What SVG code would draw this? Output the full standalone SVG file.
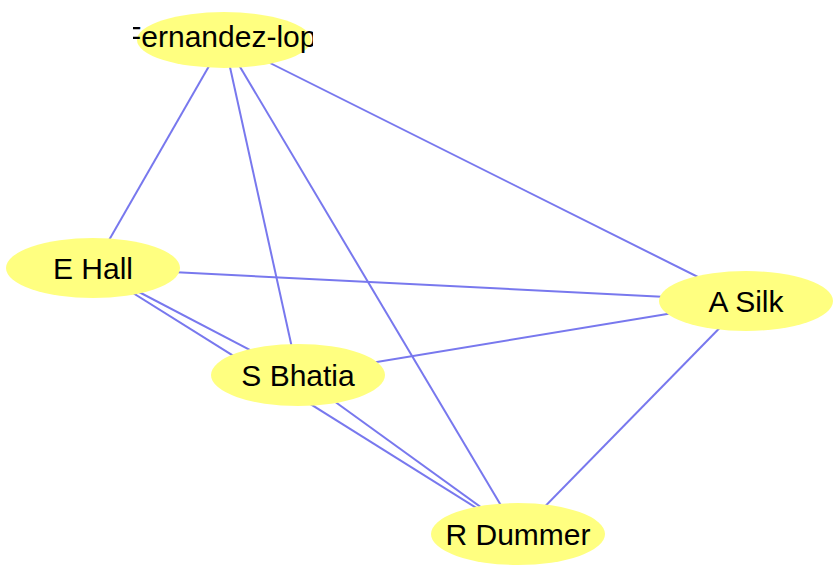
<svg xmlns="http://www.w3.org/2000/svg" width="834" height="571" viewBox="0 0 834 571">
<style>
.e{stroke:#7878ee;stroke-width:2;fill:none}
.n{fill:#ffff80;stroke:none}
.t{font-family:"Liberation Sans",Arial,sans-serif;font-size:30px;fill:#000;text-anchor:middle}
</style>
<defs>
<clipPath id="clipF"><rect x="133" y="0" width="180" height="80"/></clipPath>
</defs>
<rect width="834" height="571" fill="#fff"/>
<g id="edges">
<line class="e" x1="224" y1="40" x2="93" y2="268"/>
<line class="e" x1="224" y1="40" x2="746" y2="301"/>
<line class="e" x1="224" y1="40" x2="298" y2="375"/>
<line class="e" x1="224" y1="40" x2="518" y2="534"/>
<line class="e" x1="93" y1="268" x2="746" y2="301"/>
<line class="e" x1="93" y1="268" x2="298" y2="375"/>
<line class="e" x1="93" y1="268" x2="518" y2="534"/>
<line class="e" x1="298" y1="375" x2="746" y2="301"/>
<line class="e" x1="298" y1="375" x2="518" y2="534"/>
<line class="e" x1="746" y1="301" x2="518" y2="534"/>
</g>
<g id="fernandez">
<ellipse class="n" cx="224" cy="40" rx="87" ry="28"/>
<text x="123" y="47" class="t" style="text-anchor:start" clip-path="url(#clipF)">Fernandez-lop</text>
</g>
<g id="ehall">
<ellipse class="n" cx="93" cy="268" rx="87" ry="30"/>
<text x="93" y="278.5" class="t">E Hall</text>
</g>
<g id="asilk">
<ellipse class="n" cx="746" cy="301" rx="87" ry="30"/>
<text x="746" y="311.5" class="t">A Silk</text>
</g>
<g id="sbhatia">
<ellipse class="n" cx="298" cy="375" rx="87" ry="31"/>
<text x="298" y="385.5" class="t">S Bhatia</text>
</g>
<g id="rdummer">
<ellipse class="n" cx="518" cy="534" rx="87" ry="31"/>
<text x="518" y="544.5" class="t">R Dummer</text>
</g>
</svg>
